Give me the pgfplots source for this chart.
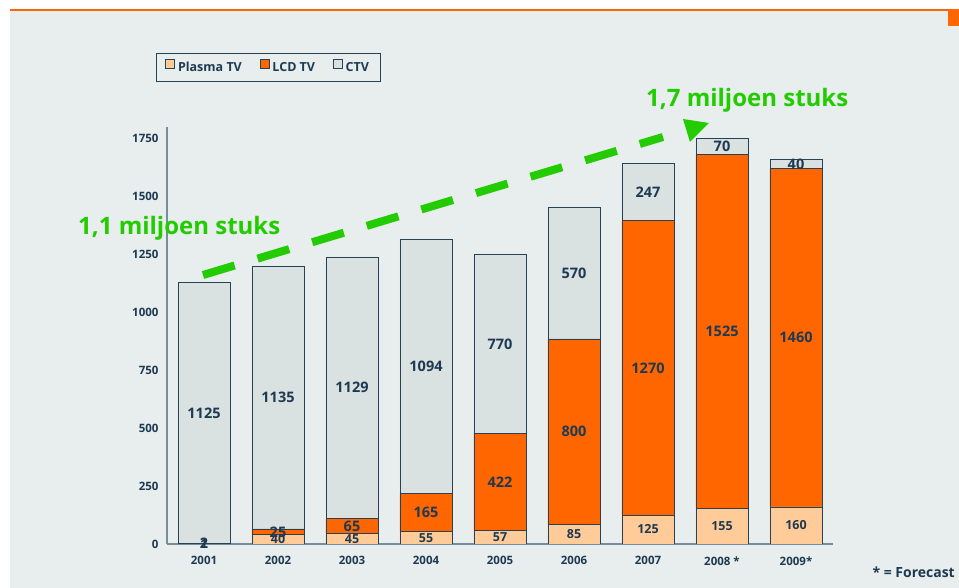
\documentclass[border=0pt]{standalone}
\usepackage{fontspec}
\setmainfont{Open Sans}
\usepackage{pgfplots}
\pgfplotsset{compat=1.18}
\usepackage{pgfplotstable}
\definecolor{bg}{RGB}{232,237,237}
\definecolor{plasma}{RGB}{255,204,153}
\definecolor{lcd}{RGB}{255,102,0}
\definecolor{ctv}{RGB}{217,225,225}
\definecolor{navy}{RGB}{30,58,82}
\definecolor{axisc}{RGB}{120,140,155}
\definecolor{grn}{RGB}{34,204,0}
\definecolor{edge}{RGB}{40,65,85}

\pgfplotstableread{
x plasma lcd ctv
0 1 2 1125
1 40 25 1135
2 45 65 1129
3 55 165 1094
4 57 422 770
5 85 800 570
6 125 1270 247
7 155 1525 70
8 160 1460 40
}\data

\begin{document}
\begin{tikzpicture}[x=1pt,y=1pt]
% px (X,Y) -> (X-167, 544-Y)
\fill[white] (-167,-44) rectangle (792,544);
\fill[bg] (-157,-44) rectangle (792,533);
\fill[lcd] (-157,533) rectangle (792,535);
\fill[lcd] (781,518) rectangle (792,533);
\useasboundingbox (-167,-44) rectangle (792,544);
\begin{axis}[
  at={(0,0)}, anchor=south west,
  scale only axis, width=666pt, height=417pt,
  xmin=-0.5, xmax=8.5, ymin=0, ymax=1800,
  ybar stacked, bar width=52pt,
  axis lines=left, axis line style={-, draw=axisc, line width=1.5pt},
  xtick=data, xticklabels={2001,2002,2003,2004,2005,2006,2007,2008 *,2009*},
  ytick={0,250,...,1750},
  major tick length=0pt,
  ticklabel style={font=\fontsize{11.5}{13}\selectfont\bfseries, text=navy},
  /pgf/number format/assume math mode=true,
  /pgf/number format/1000 sep={},
  yticklabel style={xshift=-5pt},
  xticklabel style={yshift=-9pt},
  legend style={at={(-0.0165,1.1775)}, anchor=north west, draw=edge, fill=bg,
    line width=0.8pt, font=\fontsize{12.5}{14}\selectfont\bfseries, text=navy,
    inner xsep=9pt, inner ysep=6pt,
    /tikz/every odd column/.append style={column sep=1pt},
    /tikz/every even column/.append style={column sep=16pt}},
  legend columns=-1,
  legend image code/.code={\draw[#1,draw=edge,line width=0.6pt] (0pt,-1pt) rectangle (9pt,8pt);},
]
\addplot[fill=plasma, draw=edge, line width=0.8pt] table[x=x,y=plasma]{\data};
\addplot[fill=lcd, draw=edge, line width=0.8pt] table[x=x,y=lcd]{\data};
\addplot[fill=ctv, draw=edge, line width=0.8pt] table[x=x,y=ctv]{\data};
\legend{Plasma TV,LCD TV,CTV}
\end{axis}
\begin{axis}[
  at={(0,0)}, anchor=south west,
  scale only axis, width=666pt, height=417pt,
  xmin=-0.5, xmax=8.5, ymin=0, ymax=1800,
  hide axis, clip=false,
  nodes near coords, point meta=explicit symbolic,
  nodes near coords align={center},
]
\addplot[draw=none, mark=none, every node near coord/.append style={font=\fontsize{12.5}{14}\selectfont\bfseries, text=navy}]
  table[x=x, y expr=\thisrow{plasma}/2, meta=plasma]{\data};
\addplot[draw=none, mark=none, every node near coord/.append style={font=\fontsize{14.5}{16}\selectfont\bfseries, text=navy}]
  table[x=x, y expr=\thisrow{plasma}+\thisrow{lcd}/2, meta=lcd]{\data};
\addplot[draw=none, mark=none, every node near coord/.append style={font=\fontsize{14.5}{16}\selectfont\bfseries, text=navy}]
  table[x=x, y expr=\thisrow{plasma}+\thisrow{lcd}+\thisrow{ctv}/2, meta=ctv]{\data};
\end{axis}
% green trend arrow
\draw[grn, line width=8pt, dash pattern=on 33pt off 24pt] (36,269) -- (496,407);
\fill[grn] (516,425) -- (542,421) -- (523,402) -- cycle;
\node[anchor=base west, inner sep=0pt, text=grn, font=\fontsize{24}{28}\selectfont\bfseries] at (-89,309) {1,1 miljoen stuks};
\node[anchor=base west, inner sep=0pt, text=grn, font=\fontsize{24}{28}\selectfont\bfseries] at (479,437) {1,7 miljoen stuks};
\node[anchor=base east, inner sep=0pt, text=navy, font=\fontsize{14}{16}\selectfont\bfseries] at (788,-34) {* = Forecast};
\end{tikzpicture}
\end{document}
